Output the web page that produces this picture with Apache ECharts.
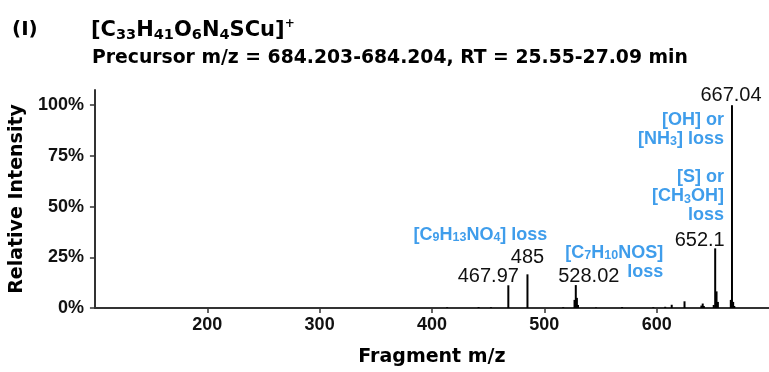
<!DOCTYPE html>
<html><head><meta charset="utf-8">
<script src="https://cdn.jsdelivr.net/npm/echarts@6/dist/echarts.min.js"></script>
<style>html,body{margin:0;padding:0;background:#fff}#c{width:769px;height:372px}</style>
</head><body><div id="c"></div>
<script>
// ---- data ----
const peakMz =        [413.5, 441.5, 452.5, 467.97, 485.0, 516.8, 526.9, 528.02, 529.0, 530.0, 546.0, 569.2, 597.0, 607.6, 613.4, 624.8, 639.8, 641.0, 642.0, 650.8, 652.1, 653.3, 654.5, 666.0, 667.04, 668.1, 669.1];
const peakIntensity = [0.4,   0.5,   0.4,   11.2,   16.6,  0.4,   4.0,   11.3,   5.0,   1.5,   0.3,   0.5,   0.4,   0.6,   1.6,   3.3,   1.2,   2.2,   1.0,   1.5,   29.4,  8.2,   3.0,   4.0,   100,    3.0,   1.0];
const labeledMz =   [467.97, 485.0, 528.02, 652.1, 667.04];
const labeledText = ['467.97', '485', '528.02', '652.1', '667.04'];
const xTicks = [200, 300, 400, 500, 600];
const yTicks = [0, 25, 50, 75, 100];
const annotText = [
  '{b|[C}{s|9}{b|H}{s|13}{b|NO}{s|4}{b|] loss}',
  '{b|[C}{s|7}{b|H}{s|10}{b|NOS]}\n{b|loss}',
  '{b|[OH] or}\n{b|[NH}{s|3}{b|] loss}',
  '{b|[S] or}\n{b|[CH}{s|3}{b|OH]}\n{b|loss}'
];
const annotMz =  [383.6, 605.8, 660, 660];
const annotPct = [36.2, 22.5, 88.2, 55.1];

// ---- styles ----
const BLUE = '#0f84e6';
const labelOffsets = [[-20, 1.3], [0, -6.7], [13, 1.3], [-15.5, 1.7], [-1, 0]];
const annotAlign = ['left', 'right', 'right', 'right'];

const barData = peakMz.map((m, i) => {
  const li = labeledMz.indexOf(m);
  const item = { value: [m, peakIntensity[i]] };
  if (li >= 0) {
    item.label = {
      show: true, position: 'top', distance: 0,
      formatter: labeledText[li], offset: labelOffsets[li],
      fontFamily: 'Liberation Sans', fontSize: 20, color: '#111'
    };
  }
  return item;
});

const annotRich = {
  b: { fontFamily: 'Liberation Sans', fontWeight: 'bold', fontSize: 18, color: BLUE, lineHeight: 19 },
  s: { fontFamily: 'Liberation Sans', fontWeight: 'bold', fontSize: 12.5, color: BLUE, lineHeight: 12, verticalAlign: 'bottom' }
};

const chart = echarts.init(document.getElementById('c'), null, { renderer: 'canvas' });
chart.setOption({
  animation: false,
  backgroundColor: '#fff',
  title: [
    { text: '(I)', left: 12, top: 20, padding: 0,
      textStyle: { fontFamily: 'DejaVu Sans', fontWeight: 'bold', fontSize: 20, color: '#000' } },
    { text: '{m|[C}{s|33}{m|H}{s|41}{m|O}{s|6}{m|N}{s|4}{m|SCu]}{p|+}', left: 91, top: 18, padding: 0,
      textStyle: { rich: {
        m: { fontFamily: 'DejaVu Sans', fontWeight: 'bold', fontSize: 21, color: '#000', lineHeight: 25 },
        s: { fontFamily: 'DejaVu Sans', fontWeight: 'bold', fontSize: 14.5, color: '#000', lineHeight: 14, verticalAlign: 'bottom' },
        p: { fontFamily: 'DejaVu Sans', fontWeight: 'bold', fontSize: 12, color: '#000', lineHeight: 9, verticalAlign: 'top' }
      } } },
    { text: 'Precursor m/z = 684.203-684.204, RT = 25.55-27.09 min', left: 92, top: 49, padding: 0,
      textStyle: { fontFamily: 'DejaVu Sans', fontWeight: 'bold', fontSize: 18.8, color: '#000' } }
  ],
  grid: { left: 94, right: 0, top: 90, bottom: 62, containLabel: false },
  xAxis: {
    type: 'value', min: 100, max: 700, interval: 100,
    name: 'Fragment m/z', nameLocation: 'middle', nameGap: 40,
    nameTextStyle: { fontFamily: 'DejaVu Sans', fontWeight: 'bold', fontSize: 19, color: '#000' },
    axisLine: { show: true, lineStyle: { color: '#333', width: 2 } },
    axisTick: { show: true, length: 5, customValues: xTicks, lineStyle: { color: '#333', width: 1.5 } },
    axisLabel: { customValues: xTicks, margin: 8, fontFamily: 'Liberation Sans', fontWeight: 'bold', fontSize: 18, color: '#111' },
    splitLine: { show: false }
  },
  yAxis: {
    type: 'value', min: 0, max: 107.5, interval: 25,
    name: 'Relative Intensity', nameLocation: 'middle', nameGap: 64, nameRotate: 90,
    nameTextStyle: { fontFamily: 'DejaVu Sans', fontWeight: 'bold', fontSize: 19, color: '#000' },
    axisLine: { show: true, lineStyle: { color: '#333', width: 2 } },
    axisTick: { show: true, length: 5, customValues: yTicks, lineStyle: { color: '#333', width: 1.5 } },
    axisLabel: { customValues: yTicks, margin: 11, formatter: '{value}%', fontFamily: 'Liberation Sans', fontWeight: 'bold', fontSize: 18, color: '#111' },
    splitLine: { show: false }
  },
  series: [
    { type: 'bar', data: barData, barWidth: 2, itemStyle: { color: '#000' }, silent: true, z: 3 },
    { type: 'scatter', symbolSize: 0, silent: true, z: 4,
      data: annotMz.map((m, i) => ({
        value: [m, annotPct[i]],
        label: { show: true, position: [0, 0], align: annotAlign[i], verticalAlign: 'middle',
                 formatter: annotText[i], rich: annotRich }
      })) }
  ]
});
</script></body></html>
